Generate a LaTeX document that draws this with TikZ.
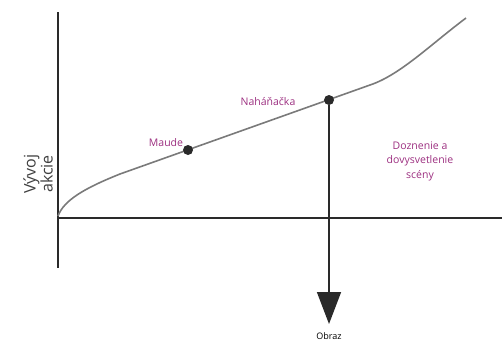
\documentclass[tikz,border=0pt]{standalone}
\usepackage{fontspec}
\setmainfont{Open Sans}
\usetikzlibrary{arrows.meta}
\definecolor{lbl}{HTML}{9C2F80}
\definecolor{axis}{HTML}{2A2A2A}
\definecolor{crv}{HTML}{7A7A7A}
\tikzset{
  axisline/.style={draw=axis, line width=1.5pt},
  curveline/.style={draw=crv, line width=1.6pt},
  dot/.style={circle, fill=axis, inner sep=0pt, minimum size=10pt},
  lbltext/.style={text=lbl, font=\fontsize{10.5}{12}\selectfont, inner sep=0pt},
}
\begin{document}
\begin{tikzpicture}[x=1pt,y=-1pt]
\useasboundingbox (0,0) rectangle (502,343);
% axes
\coordinate (ytop) at (58,12);
\coordinate (ybot) at (58,268);
\coordinate (xl) at (58,218);
\coordinate (xr) at (502,218);
\draw[axisline] (ytop) -- (ybot);
\draw[axisline] (xl) -- (xr);
% curve
\draw[curveline] (58,216) .. controls (64,200) and (85,188) .. (120,174) -- (370,85) .. controls (400,75) and (430,45) .. (466,18);
% dots
\node[dot] (maude) at (188,150) {};
\node[dot] (nahan) at (329,100) {};
\coordinate (obrazend) at (329,324);
\draw[draw=axis, line width=1.5pt, -{Triangle[width=24pt,length=32pt]}] (nahan) -- (obrazend);
% labels
\node[lbltext] (lmaude) at (166,143) {Maude};
\node[lbltext] (lnahan) at (268,102) {Naháňačka};
\node[lbltext, align=center, font=\fontsize{10.5}{14.5}\selectfont] (ldozn) at (420,161) {Doznenie a\\dovysvetlenie\\scény};
\node[text=black, font=\fontsize{9}{10}\selectfont, inner sep=0pt] (lobraz) at (329,336) {Obraz};
\node[text=axis!90, rotate=90, align=center, font=\fontsize{16}{12.5}\selectfont, inner sep=0pt] (lvyvoj) at (38,174) {Vývoj\\akcie};
\end{tikzpicture}
\end{document}
